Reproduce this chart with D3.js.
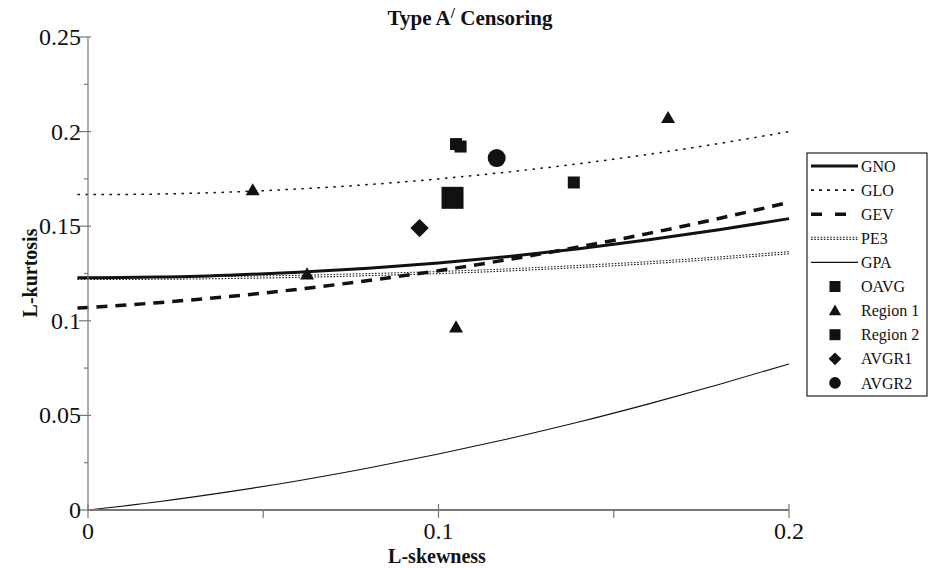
<!DOCTYPE html>
<html>
<head>
<meta charset="utf-8">
<script src="https://cdn.jsdelivr.net/npm/d3@7"></script>
<style>
  html, body { margin: 0; padding: 0; background: #fff; }
  svg { display: block; font-family: "Liberation Serif", "Times New Roman", serif; }
</style>
</head>
<body>
<svg id="chart" width="929" height="568"></svg>
<script>
// ---- Data ----
const curveX = [-0.003, 0, 0.02, 0.04, 0.06, 0.08, 0.1, 0.12, 0.14, 0.16, 0.18, 0.2];
const gnoY  = [0.1228, 0.1228, 0.1231, 0.1241, 0.1256, 0.1278, 0.1306, 0.1340, 0.1381, 0.1428, 0.1481, 0.1540];
const gloY  = [0.1667, 0.1667, 0.1670, 0.1680, 0.1697, 0.1720, 0.1750, 0.1787, 0.1830, 0.1880, 0.1937, 0.2000];
const gevY  = [0.1067, 0.1070, 0.1096, 0.1128, 0.1167, 0.1213, 0.1265, 0.1324, 0.1390, 0.1462, 0.1541, 0.1626];
const pe3Y  = [0.1224, 0.1224, 0.1225, 0.1229, 0.1235, 0.1244, 0.1255, 0.1269, 0.1287, 0.1307, 0.1332, 0.1360];
const gpaY  = [null,   0.0000, 0.0044, 0.0096, 0.0155, 0.0222, 0.0296, 0.0377, 0.0465, 0.0561, 0.0663, 0.0772];

const oavgX = [0.104];          const oavgY = [0.165];
const region1X = [0.047, 0.0625, 0.105, 0.1655]; const region1Y = [0.169, 0.1245, 0.0965, 0.2072];
const region2X = [0.105, 0.1063, 0.1386];        const region2Y = [0.1934, 0.1921, 0.1731];
const avgr1X = [0.0946];        const avgr1Y = [0.149];
const avgr2X = [0.1166];        const avgr2Y = [0.186];

const xTicks = [0, 0.1, 0.2];
const xMinorTicks = [0.05, 0.15];
const yTicks = [0, 0.05, 0.1, 0.15, 0.2, 0.25];
const yMinorTicks = [0.025, 0.075, 0.125, 0.175, 0.225];
const legendLabels = ["GNO", "GLO", "GEV", "PE3", "GPA", "OAVG", "Region 1", "Region 2", "AVGR1", "AVGR2"];

// ---- Drawing ----
const svg = d3.select("#chart");
const x = d3.scaleLinear().domain([0, 0.2]).range([88, 789]);
const y = d3.scaleLinear().domain([0, 0.25]).range([510, 37]);
const fmt = d => (d === 0 ? "0" : String(+d.toFixed(3)));

// Curves
const lineGen = ys => d3.line()
  .defined((d, i) => ys[i] !== null)
  .x((d, i) => x(curveX[i]))
  .y((d, i) => y(ys[i]))
  .curve(d3.curveMonotoneX)(curveX);

const curves = svg.append("g");
curves.append("path").attr("d", lineGen(gpaY)).attr("fill", "none").attr("stroke", "#111").attr("stroke-width", 1.1);
curves.append("path").attr("d", lineGen(pe3Y)).attr("fill", "none").attr("stroke", "#222").attr("stroke-width", 3.2).attr("stroke-dasharray", "1.6,1.6");
curves.append("path").attr("d", lineGen(pe3Y)).attr("fill", "none").attr("stroke", "#fff").attr("stroke-width", 1);
curves.append("path").attr("d", lineGen(gloY)).attr("fill", "none").attr("stroke", "#111").attr("stroke-width", 1.5).attr("stroke-dasharray", "2.5,5.5");
curves.append("path").attr("d", lineGen(gevY)).attr("fill", "none").attr("stroke", "#111").attr("stroke-width", 3.5).attr("stroke-dasharray", "11,8");
curves.append("path").attr("d", lineGen(gnoY)).attr("fill", "none").attr("stroke", "#111").attr("stroke-width", 3);

// Axes
const axisColor = "#777";
const yAxis = svg.append("g").attr("transform", `translate(${x(0)},0)`);
yAxis.append("line").attr("y1", y(0)).attr("y2", y(0.25)).attr("stroke", axisColor).attr("stroke-width", 1.2);
yAxis.selectAll(".maj").data(yTicks).join("line")
  .attr("x1", -9).attr("x2", 3).attr("y1", d => y(d)).attr("y2", d => y(d))
  .attr("stroke", axisColor).attr("stroke-width", 1.2);
yAxis.selectAll(".min").data(yMinorTicks).join("line")
  .attr("x1", -4).attr("x2", 0).attr("y1", d => y(d)).attr("y2", d => y(d))
  .attr("stroke", axisColor).attr("stroke-width", 1.2);
yAxis.selectAll("text").data(yTicks).join("text")
  .attr("x", -7).attr("y", d => y(d)).attr("dy", "0.33em")
  .attr("text-anchor", "end").attr("font-size", 24).attr("fill", "#111")
  .text(fmt);

const xAxis = svg.append("g").attr("transform", `translate(0,${y(0)})`);
xAxis.append("line").attr("x1", x(0)).attr("x2", x(0.2)).attr("stroke", axisColor).attr("stroke-width", 2);
xAxis.selectAll(".maj").data(xTicks).join("line")
  .attr("x1", d => x(d)).attr("x2", d => x(d)).attr("y1", -6).attr("y2", 8)
  .attr("stroke", axisColor).attr("stroke-width", 1.2);
xAxis.selectAll(".min").data(xMinorTicks).join("line")
  .attr("x1", d => x(d)).attr("x2", d => x(d)).attr("y1", 0).attr("y2", 8)
  .attr("stroke", axisColor).attr("stroke-width", 1.2);
xAxis.selectAll("text").data(xTicks).join("text")
  .attr("x", d => x(d)).attr("y", 21)
  .attr("dy", "0.33em")
  .attr("text-anchor", "middle").attr("font-size", 24).attr("fill", "#111")
  .text(fmt);

// Points
const pts = svg.append("g").attr("fill", "#111");
const tri = d3.symbol().type(d3.symbolTriangle);
const pairs = (xs, ys) => xs.map((v, i) => [v, ys[i]]);

pts.selectAll(".r2").data(pairs(region2X, region2Y)).join("rect")
  .attr("x", d => x(d[0]) - 6).attr("y", d => y(d[1]) - 6).attr("width", 12).attr("height", 12);
pts.selectAll(".oavg").data(pairs(oavgX, oavgY)).join("rect")
  .attr("x", d => x(d[0]) - 11).attr("y", d => y(d[1]) - 11).attr("width", 22).attr("height", 22);
pts.selectAll(".r1").data(pairs(region1X, region1Y)).join("path")
  .attr("d", tri.size(85)())
  .attr("transform", d => `translate(${x(d[0])},${y(d[1]) + 1})`);
pts.selectAll(".a1").data(pairs(avgr1X, avgr1Y)).join("rect")
  .attr("x", -6.5).attr("y", -6.5).attr("width", 13).attr("height", 13)
  .attr("transform", d => `translate(${x(d[0])},${y(d[1])}) rotate(45)`);
pts.selectAll(".a2").data(pairs(avgr2X, avgr2Y)).join("circle")
  .attr("cx", d => x(d[0])).attr("cy", d => y(d[1])).attr("r", 9);

// Title and axis titles
const title = svg.append("text").attr("x", 470).attr("y", 25).attr("text-anchor", "middle")
  .attr("font-size", 21).attr("font-weight", "bold").attr("fill", "#111");
title.append("tspan").text("Type A");
title.append("tspan").attr("dy", -7).attr("font-size", 15).text("/");
title.append("tspan").attr("dy", 7).text(" Censoring");

svg.append("text").attr("x", 437).attr("y", 563).attr("text-anchor", "middle")
  .attr("font-size", 20).attr("font-weight", "bold").attr("fill", "#111").text("L-skewness");
svg.append("text").attr("transform", "translate(37,273) rotate(-90)").attr("text-anchor", "middle")
  .attr("font-size", 20).attr("font-weight", "bold").attr("fill", "#111").text("L-kurtosis");

// Legend
const lg = svg.append("g");
const ly0 = 166, ldy = 24.1;
lg.append("rect").attr("x", 807).attr("y", 153).attr("width", 120).attr("height", 243)
  .attr("fill", "#fff").attr("stroke", "#222").attr("stroke-width", 1.2);
const sx1 = 811, sx2 = 858, mx = 835;
const ly = i => ly0 + i * ldy;
lg.append("line").attr("x1", sx1).attr("x2", sx2).attr("y1", ly(0)).attr("y2", ly(0)).attr("stroke", "#111").attr("stroke-width", 3);
lg.append("line").attr("x1", sx1).attr("x2", sx2).attr("y1", ly(1)).attr("y2", ly(1)).attr("stroke", "#111").attr("stroke-width", 1.6).attr("stroke-dasharray", "3,5");
lg.append("line").attr("x1", sx1).attr("x2", sx2).attr("y1", ly(2)).attr("y2", ly(2)).attr("stroke", "#111").attr("stroke-width", 3.5).attr("stroke-dasharray", "11,13");
lg.append("line").attr("x1", sx1).attr("x2", sx2).attr("y1", ly(3)).attr("y2", ly(3)).attr("stroke", "#222").attr("stroke-width", 3.2).attr("stroke-dasharray", "1.6,1.6");
lg.append("line").attr("x1", sx1).attr("x2", sx2).attr("y1", ly(3)).attr("y2", ly(3)).attr("stroke", "#fff").attr("stroke-width", 1);
lg.append("line").attr("x1", sx1).attr("x2", sx2).attr("y1", ly(4)).attr("y2", ly(4)).attr("stroke", "#111").attr("stroke-width", 1.1);
lg.append("rect").attr("x", mx - 5.5).attr("y", ly(5) - 5.5).attr("width", 11).attr("height", 11).attr("fill", "#111");
lg.append("path").attr("d", tri.size(65)()).attr("transform", `translate(${mx},${ly(6) + 1})`).attr("fill", "#111");
lg.append("rect").attr("x", mx - 5.5).attr("y", ly(7) - 5.5).attr("width", 11).attr("height", 11).attr("fill", "#111");
lg.append("rect").attr("x", -4.5).attr("y", -4.5).attr("width", 9).attr("height", 9).attr("fill", "#111")
  .attr("transform", `translate(${mx},${ly(8)}) rotate(45)`);
lg.append("circle").attr("cx", mx).attr("cy", ly(9)).attr("r", 5.8).attr("fill", "#111");
lg.selectAll("text").data(legendLabels).join("text")
  .attr("x", 861).attr("y", (d, i) => ly(i)).attr("dy", "0.35em")
  .attr("font-size", 16).attr("fill", "#111").text(d => d);
</script>
</body>
</html>
